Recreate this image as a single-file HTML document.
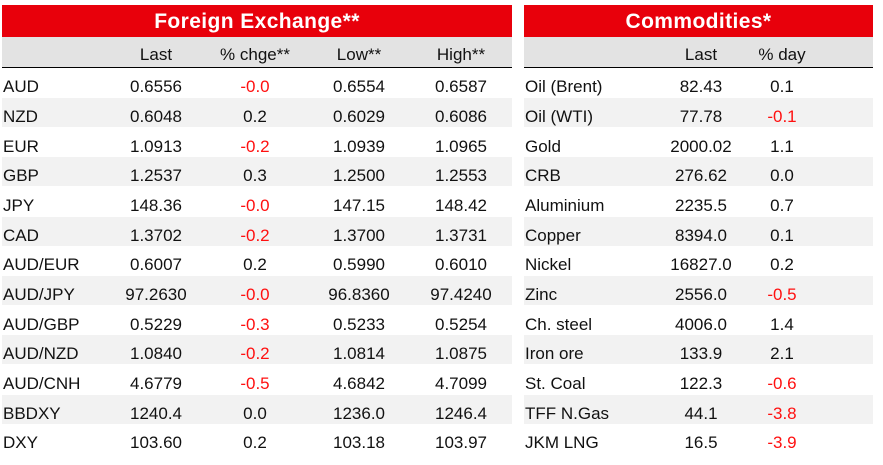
<!DOCTYPE html>
<html>
<head>
<meta charset="utf-8">
<style>
html,body{margin:0;padding:0;background:#fff;}
body{width:883px;height:465px;position:relative;overflow:hidden;font-family:"Liberation Sans",Arial,sans-serif;color:#111;}
.abs{position:absolute;}
.red{background:#e8000b;}
.title{position:absolute;color:#fff;font-weight:bold;font-size:21px;line-height:24px;text-align:center;white-space:nowrap;}
.hdr{background:#e3e3e3;}
.line{background:#000;height:1.6px;}
.zeb{background:#f2f2f2;height:29px;}
.t{position:absolute;font-size:17px;line-height:20px;white-space:nowrap;}
.c{text-align:center;width:110px;}
.n{color:#ff1010;}
</style>
</head>
<body>
<!-- Left table backgrounds -->
<div class="abs red" style="left:2px;top:5px;width:510px;height:32px;"></div>
<div class="title" style="left:2px;top:10px;width:510px;letter-spacing:0.4px;">Foreign Exchange**</div>
<div class="abs hdr" style="left:2px;top:37px;width:510px;height:29.5px;"></div>
<div class="abs line" style="left:2px;top:66.5px;width:510px;"></div>

<!-- Right table backgrounds -->
<div class="abs red" style="left:524px;top:5px;width:349px;height:32px;"></div>
<div class="title" style="left:524px;top:10px;width:349px;letter-spacing:0.4px;">Commodities*</div>
<div class="abs hdr" style="left:524px;top:37px;width:349px;height:29.5px;"></div>
<div class="abs line" style="left:524px;top:66.5px;width:349px;"></div>

<!-- zebra rows (i = 1,3,5,7,9,11): top = 68.5 + i*29.65 -->
<div class="abs zeb" style="left:2px;top:98.15px;width:510px;"></div>
<div class="abs zeb" style="left:2px;top:157.45px;width:510px;"></div>
<div class="abs zeb" style="left:2px;top:216.75px;width:510px;"></div>
<div class="abs zeb" style="left:2px;top:276.05px;width:510px;"></div>
<div class="abs zeb" style="left:2px;top:335.35px;width:510px;"></div>
<div class="abs zeb" style="left:2px;top:394.65px;width:510px;"></div>

<div class="abs zeb" style="left:524px;top:98.15px;width:349px;"></div>
<div class="abs zeb" style="left:524px;top:157.45px;width:349px;"></div>
<div class="abs zeb" style="left:524px;top:216.75px;width:349px;"></div>
<div class="abs zeb" style="left:524px;top:276.05px;width:349px;"></div>
<div class="abs zeb" style="left:524px;top:335.35px;width:349px;"></div>
<div class="abs zeb" style="left:524px;top:394.65px;width:349px;"></div>

<!-- Headers -->
<div class="t c" style="left:101px;top:45px;">Last</div>
<div class="t c" style="left:200px;top:45px;">% chge**</div>
<div class="t c" style="left:304px;top:45px;">Low**</div>
<div class="t c" style="left:406px;top:45px;">High**</div>
<div class="t c" style="left:646px;top:45px;">Last</div>
<div class="t c" style="left:727px;top:45px;">% day</div>

<!-- Left table rows -->
<div style="position:absolute;left:0;top:0;">
<!-- row 0 -->
<div class="t" style="left:3px;top:77.4px;">AUD</div>
<div class="t c" style="left:101px;top:77.4px;">0.6556</div>
<div class="t c n" style="left:200px;top:77.4px;">-0.0</div>
<div class="t c" style="left:304px;top:77.4px;">0.6554</div>
<div class="t c" style="left:406px;top:77.4px;">0.6587</div>
<!-- row 1 -->
<div class="t" style="left:3px;top:107.05px;">NZD</div>
<div class="t c" style="left:101px;top:107.05px;">0.6048</div>
<div class="t c" style="left:200px;top:107.05px;">0.2</div>
<div class="t c" style="left:304px;top:107.05px;">0.6029</div>
<div class="t c" style="left:406px;top:107.05px;">0.6086</div>
<!-- row 2 -->
<div class="t" style="left:3px;top:136.7px;">EUR</div>
<div class="t c" style="left:101px;top:136.7px;">1.0913</div>
<div class="t c n" style="left:200px;top:136.7px;">-0.2</div>
<div class="t c" style="left:304px;top:136.7px;">1.0939</div>
<div class="t c" style="left:406px;top:136.7px;">1.0965</div>
<!-- row 3 -->
<div class="t" style="left:3px;top:166.35px;">GBP</div>
<div class="t c" style="left:101px;top:166.35px;">1.2537</div>
<div class="t c" style="left:200px;top:166.35px;">0.3</div>
<div class="t c" style="left:304px;top:166.35px;">1.2500</div>
<div class="t c" style="left:406px;top:166.35px;">1.2553</div>
<!-- row 4 -->
<div class="t" style="left:3px;top:196px;">JPY</div>
<div class="t c" style="left:101px;top:196px;">148.36</div>
<div class="t c n" style="left:200px;top:196px;">-0.0</div>
<div class="t c" style="left:304px;top:196px;">147.15</div>
<div class="t c" style="left:406px;top:196px;">148.42</div>
<!-- row 5 -->
<div class="t" style="left:3px;top:225.65px;">CAD</div>
<div class="t c" style="left:101px;top:225.65px;">1.3702</div>
<div class="t c n" style="left:200px;top:225.65px;">-0.2</div>
<div class="t c" style="left:304px;top:225.65px;">1.3700</div>
<div class="t c" style="left:406px;top:225.65px;">1.3731</div>
<!-- row 6 -->
<div class="t" style="left:3px;top:255.3px;">AUD/EUR</div>
<div class="t c" style="left:101px;top:255.3px;">0.6007</div>
<div class="t c" style="left:200px;top:255.3px;">0.2</div>
<div class="t c" style="left:304px;top:255.3px;">0.5990</div>
<div class="t c" style="left:406px;top:255.3px;">0.6010</div>
<!-- row 7 -->
<div class="t" style="left:3px;top:284.95px;">AUD/JPY</div>
<div class="t c" style="left:101px;top:284.95px;">97.2630</div>
<div class="t c n" style="left:200px;top:284.95px;">-0.0</div>
<div class="t c" style="left:304px;top:284.95px;">96.8360</div>
<div class="t c" style="left:406px;top:284.95px;">97.4240</div>
<!-- row 8 -->
<div class="t" style="left:3px;top:314.6px;">AUD/GBP</div>
<div class="t c" style="left:101px;top:314.6px;">0.5229</div>
<div class="t c n" style="left:200px;top:314.6px;">-0.3</div>
<div class="t c" style="left:304px;top:314.6px;">0.5233</div>
<div class="t c" style="left:406px;top:314.6px;">0.5254</div>
<!-- row 9 -->
<div class="t" style="left:3px;top:344.25px;">AUD/NZD</div>
<div class="t c" style="left:101px;top:344.25px;">1.0840</div>
<div class="t c n" style="left:200px;top:344.25px;">-0.2</div>
<div class="t c" style="left:304px;top:344.25px;">1.0814</div>
<div class="t c" style="left:406px;top:344.25px;">1.0875</div>
<!-- row 10 -->
<div class="t" style="left:3px;top:373.9px;">AUD/CNH</div>
<div class="t c" style="left:101px;top:373.9px;">4.6779</div>
<div class="t c n" style="left:200px;top:373.9px;">-0.5</div>
<div class="t c" style="left:304px;top:373.9px;">4.6842</div>
<div class="t c" style="left:406px;top:373.9px;">4.7099</div>
<!-- row 11 -->
<div class="t" style="left:3px;top:403.55px;">BBDXY</div>
<div class="t c" style="left:101px;top:403.55px;">1240.4</div>
<div class="t c" style="left:200px;top:403.55px;">0.0</div>
<div class="t c" style="left:304px;top:403.55px;">1236.0</div>
<div class="t c" style="left:406px;top:403.55px;">1246.4</div>
<!-- row 12 -->
<div class="t" style="left:3px;top:433.2px;">DXY</div>
<div class="t c" style="left:101px;top:433.2px;">103.60</div>
<div class="t c" style="left:200px;top:433.2px;">0.2</div>
<div class="t c" style="left:304px;top:433.2px;">103.18</div>
<div class="t c" style="left:406px;top:433.2px;">103.97</div>
</div>

<!-- Right table rows -->
<div class="t" style="left:525px;top:77.4px;">Oil (Brent)</div>
<div class="t c" style="left:646px;top:77.4px;">82.43</div>
<div class="t c" style="left:727px;top:77.4px;">0.1</div>

<div class="t" style="left:525px;top:107.05px;">Oil (WTI)</div>
<div class="t c" style="left:646px;top:107.05px;">77.78</div>
<div class="t c n" style="left:727px;top:107.05px;">-0.1</div>

<div class="t" style="left:525px;top:136.7px;">Gold</div>
<div class="t c" style="left:646px;top:136.7px;">2000.02</div>
<div class="t c" style="left:727px;top:136.7px;">1.1</div>

<div class="t" style="left:525px;top:166.35px;">CRB</div>
<div class="t c" style="left:646px;top:166.35px;">276.62</div>
<div class="t c" style="left:727px;top:166.35px;">0.0</div>

<div class="t" style="left:525px;top:196px;">Aluminium</div>
<div class="t c" style="left:646px;top:196px;">2235.5</div>
<div class="t c" style="left:727px;top:196px;">0.7</div>

<div class="t" style="left:525px;top:225.65px;">Copper</div>
<div class="t c" style="left:646px;top:225.65px;">8394.0</div>
<div class="t c" style="left:727px;top:225.65px;">0.1</div>

<div class="t" style="left:525px;top:255.3px;">Nickel</div>
<div class="t c" style="left:646px;top:255.3px;">16827.0</div>
<div class="t c" style="left:727px;top:255.3px;">0.2</div>

<div class="t" style="left:525px;top:284.95px;">Zinc</div>
<div class="t c" style="left:646px;top:284.95px;">2556.0</div>
<div class="t c n" style="left:727px;top:284.95px;">-0.5</div>

<div class="t" style="left:525px;top:314.6px;">Ch. steel</div>
<div class="t c" style="left:646px;top:314.6px;">4006.0</div>
<div class="t c" style="left:727px;top:314.6px;">1.4</div>

<div class="t" style="left:525px;top:344.25px;">Iron ore</div>
<div class="t c" style="left:646px;top:344.25px;">133.9</div>
<div class="t c" style="left:727px;top:344.25px;">2.1</div>

<div class="t" style="left:525px;top:373.9px;">St. Coal</div>
<div class="t c" style="left:646px;top:373.9px;">122.3</div>
<div class="t c n" style="left:727px;top:373.9px;">-0.6</div>

<div class="t" style="left:525px;top:403.55px;">TFF N.Gas</div>
<div class="t c" style="left:646px;top:403.55px;">44.1</div>
<div class="t c n" style="left:727px;top:403.55px;">-3.8</div>

<div class="t" style="left:525px;top:433.2px;">JKM LNG</div>
<div class="t c" style="left:646px;top:433.2px;">16.5</div>
<div class="t c n" style="left:727px;top:433.2px;">-3.9</div>
</body>
</html>
